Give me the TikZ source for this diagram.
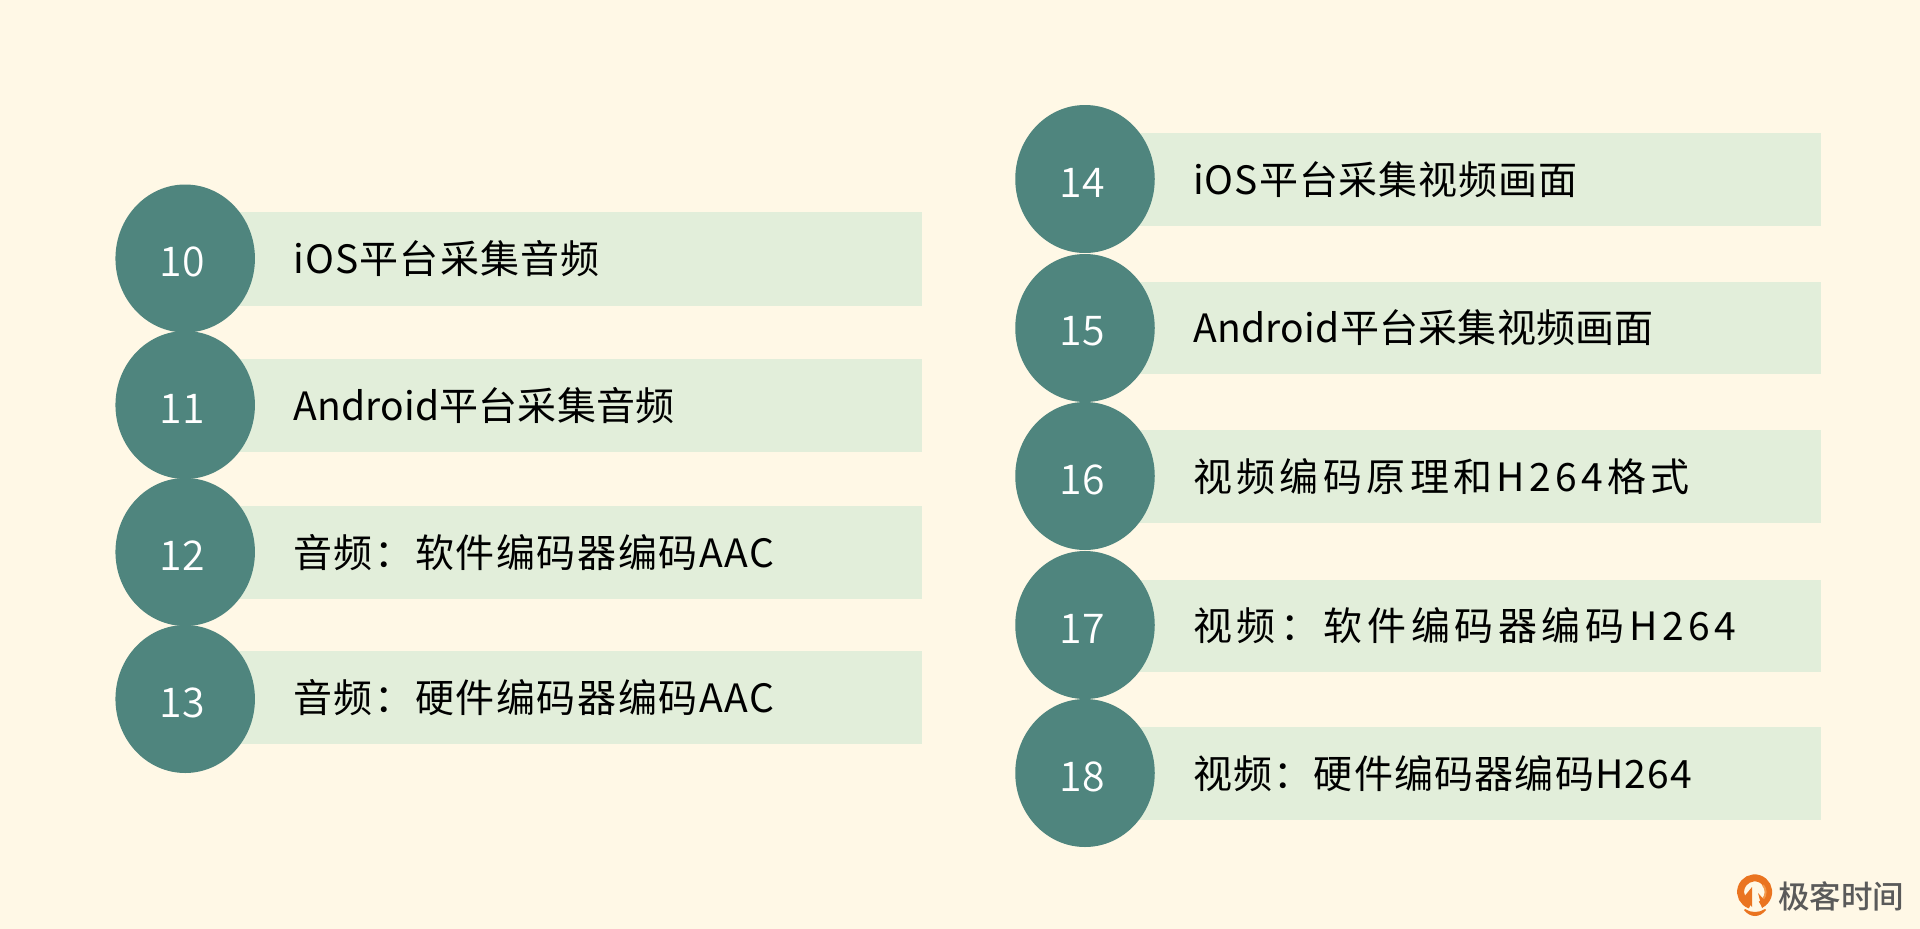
\documentclass[tikz,border=0pt]{standalone}
\usepackage{fontspec}
\setmainfont{Noto Sans CJK SC}
\newfontfamily\boldcjk{Noto Sans CJK SC Medium}
\newfontfamily\lightcjk{Noto Sans CJK SC DemiLight}
\usetikzlibrary{shapes.geometric}
\definecolor{bgc}{HTML}{FFF8E6}
\definecolor{barc}{HTML}{E2EEDA}
\definecolor{circc}{HTML}{4F857E}
\definecolor{logoo}{HTML}{EA7420}
\definecolor{logol}{HTML}{F39A4C}
\definecolor{logog}{HTML}{5A5A5A}
\tikzset{
  barbox/.style={fill=barc,draw=none,rectangle,inner sep=0pt,anchor=north west},
  numcirc/.style={ellipse,fill=circc,draw=none,inner sep=0pt,minimum width=139.5pt,minimum height=148pt},
  numtext/.style={inner sep=0pt,text=white,font=\lightcjk\fontsize{41}{41}\selectfont},
  rowtext/.style={anchor=west,inner sep=0pt,text=black,font=\fontsize{39}{39}\selectfont},
}
\newcommand{\rowitem}[9]{% num, circle x, circle y, bar x, bar top, bar w, bar h, letterspace, text
  \node[barbox,minimum width=#6pt,minimum height=#7pt] (bar#1) at (#4,#5) {};
  \node[numcirc] (c#1) at (#2,#3) {};
  \node[numtext] (n#1) at (#2-3,#3+3.5) {#1};
  \node[rowtext] (t#1) at (#4+58,#5+#7/2) {\addfontfeature{LetterSpace=#8}#9};
}
\begin{document}
\begin{tikzpicture}[x=1pt,y=-1pt]
\useasboundingbox (0,0) rectangle (1920,929);
\fill[bgc] (0,0) rectangle (1920,929);
\rowitem{10}{185.2}{258.5}{235}{211.5}{687}{94.5}{3.1}{iOS平台采集音频}
\rowitem{11}{185.2}{405}{235}{359}{687}{93}{0.5}{Android平台采集音频}
\rowitem{12}{185.2}{552}{235}{506}{687}{93}{4.2}{音频：软件编码器编码AAC}
\rowitem{13}{185.2}{699}{235}{651}{687}{93}{4.2}{音频：硬件编码器编码AAC}
\rowitem{14}{1085}{179}{1135}{133}{686}{93}{2.5}{iOS平台采集视频画面}
\rowitem{15}{1085}{328}{1135}{282}{686}{92}{0.7}{Android平台采集视频画面}
\rowitem{16}{1085}{476}{1135}{430}{686}{93}{11.2}{视频编码原理和H264格式}
\rowitem{17}{1085}{625}{1135}{580}{686}{92}{11.8}{视频：软件编码器编码H264}
\rowitem{18}{1085}{773}{1135}{727}{686}{93}{3.1}{视频：硬件编码器编码H264}
% logo
\draw[logoo,line width=7pt] (1750.3,905.2) arc[start angle=108,end angle=425,radius=14];
\draw[logol,line width=2pt] (1763,885) arc[start angle=-40,end angle=40,radius=11];
\fill[logoo] (1745,909) .. controls (1751,913) and (1759,913) .. (1765,909) -- (1766,910) .. controls (1760,918) and (1750,918) .. (1744,910) -- cycle;
\fill[logoo] (1752,887) -- (1752,907) -- (1743,898) -- cycle;
\fill[logoo] (1758,893) -- (1767,903) -- (1762,908) -- cycle;
\node[anchor=west,inner sep=0pt,text=logog,font=\boldcjk\fontsize{31.5}{31.5}\selectfont] (logotext) at (1778,896) {极客时间};
\end{tikzpicture}
\end{document}
